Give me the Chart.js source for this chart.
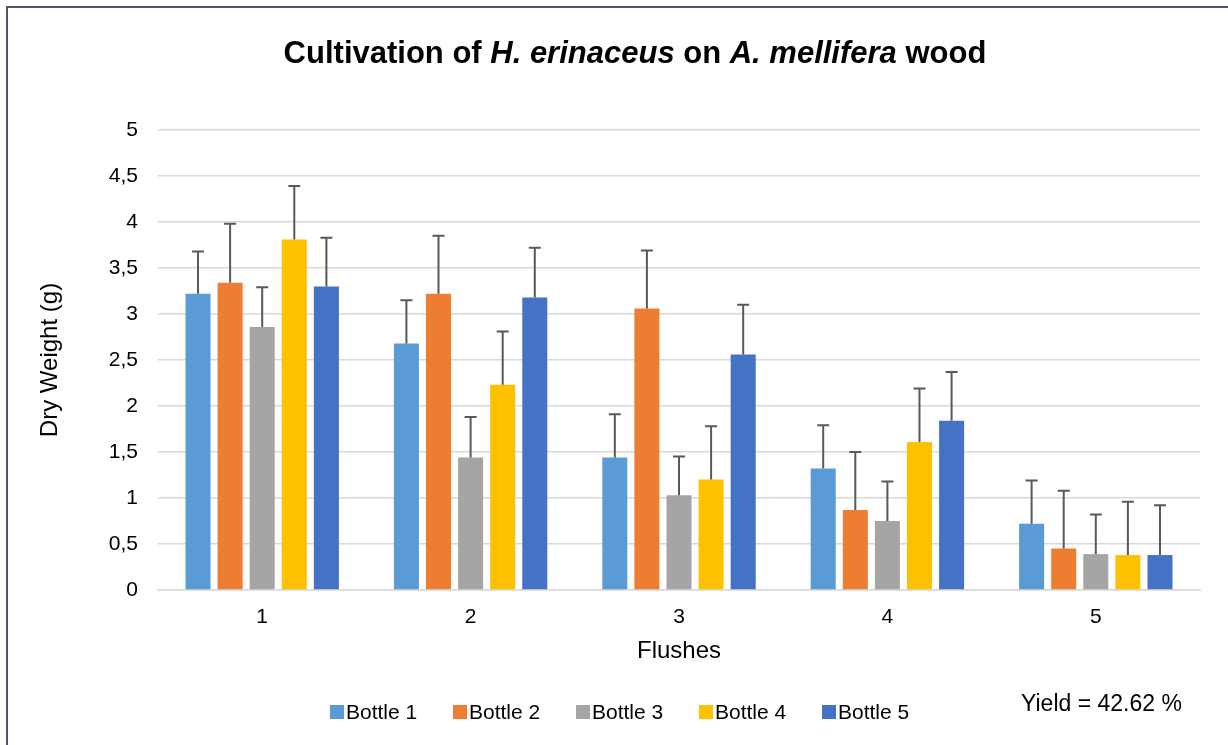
<!DOCTYPE html>
<html lang="en">
<head>
    <meta charset="UTF-8">
    <title>Cultivation of H. erinaceus on A. mellifera wood</title>
    <script src="https://cdn.jsdelivr.net/npm/chart.js@4.4.0/dist/chart.umd.min.js"></script>
    <style>
        html, body { margin: 0; padding: 0; background: #fff; }
        #wrap { width: 1228px; height: 745px; }
    </style>
</head>
<body>
    <div id="wrap"><canvas id="myChart" width="1228" height="745"></canvas></div>
    <script>
        // flushes on x axis
        const flushes = ['1', '2', '3', '4', '5'];
        const bottles = ['Bottle 1', 'Bottle 2', 'Bottle 3', 'Bottle 4', 'Bottle 5'];
        const colors = ['#5B9BD5', '#ED7D31', '#A5A5A5', '#FFC000', '#4472C4'];

        // dry weight (g) per flush, one array per bottle
        const bottle1 = [3.22, 2.68, 1.44, 1.32, 0.72];
        const bottle2 = [3.34, 3.22, 3.06, 0.87, 0.45];
        const bottle3 = [2.86, 1.44, 1.03, 0.75, 0.39];
        const bottle4 = [3.81, 2.23, 1.20, 1.61, 0.38];
        const bottle5 = [3.30, 3.18, 2.56, 1.84, 0.38];

        // error bar size (only the upper part is shown)
        const err1 = [0.46, 0.47, 0.47, 0.47, 0.47];
        const err2 = [0.64, 0.63, 0.63, 0.63, 0.63];
        const err3 = [0.43, 0.44, 0.42, 0.43, 0.43];
        const err4 = [0.58, 0.58, 0.58, 0.58, 0.58];
        const err5 = [0.53, 0.54, 0.54, 0.53, 0.54];

        const yTicks = [0, 0.5, 1, 1.5, 2, 2.5, 3, 3.5, 4, 4.5, 5];
        const yieldText = 'Yield = 42.62 %';

        const values = [bottle1, bottle2, bottle3, bottle4, bottle5];
        const errors = [err1, err2, err3, err4, err5];

        const font = "'Liberation Sans', Arial, sans-serif";

        // error bars on top of every bar
        const errorBars = {
            id: 'errorBars',
            afterDatasetsDraw(chart) {
                const ctx = chart.ctx;
                const y = chart.scales.y;
                ctx.save();
                ctx.strokeStyle = '#595959';
                ctx.lineWidth = 2;
                chart.data.datasets.forEach((ds, i) => {
                    const meta = chart.getDatasetMeta(i);
                    meta.data.forEach((bar, j) => {
                        const top = y.getPixelForValue(ds.data[j] + errors[i][j]);
                        ctx.beginPath();
                        ctx.moveTo(bar.x, bar.y);
                        ctx.lineTo(bar.x, top);
                        ctx.moveTo(bar.x - 6, top);
                        ctx.lineTo(bar.x + 6, top);
                        ctx.stroke();
                    });
                });
                ctx.restore();
            }
        };

        // title with italic species names, frame, legend, yield note
        const extras = {
            id: 'extras',
            afterDraw(chart) {
                const ctx = chart.ctx;
                ctx.save();
                // frame
                ctx.strokeStyle = '#4A5568';
                ctx.lineWidth = 2;
                ctx.beginPath();
                ctx.moveTo(7, 745);
                ctx.lineTo(7, 7);
                ctx.lineTo(1228, 7);
                ctx.stroke();

                // title
                const parts = [
                    ['Cultivation of ', 'bold'],
                    ['H. erinaceus', 'italic bold'],
                    [' on ', 'bold'],
                    ['A. mellifera', 'italic bold'],
                    [' wood', 'bold']
                ];
                let total = 0;
                parts.forEach(p => {
                    ctx.font = p[1] + ' 31px ' + font;
                    total += ctx.measureText(p[0]).width;
                });
                let x = 635 - total / 2;
                ctx.fillStyle = '#000';
                ctx.textBaseline = 'middle';
                ctx.textAlign = 'left';
                parts.forEach(p => {
                    ctx.font = p[1] + ' 31px ' + font;
                    ctx.fillText(p[0], x, 54);
                    x += ctx.measureText(p[0]).width;
                });

                // legend
                ctx.font = '21px ' + font;
                let lx = 330;
                chart.data.datasets.forEach(ds => {
                    ctx.fillStyle = ds.backgroundColor;
                    ctx.fillRect(lx, 705, 14, 14);
                    ctx.fillStyle = '#000';
                    ctx.fillText(ds.label, lx + 16, 713);
                    lx += 123;
                });

                // yield
                ctx.font = '23px ' + font;
                ctx.fillText(yieldText, 1021, 705);
                ctx.restore();
            }
        };

        const ctx = document.getElementById('myChart').getContext('2d');
        const myChart = new Chart(ctx, {
            type: 'bar',
            data: {
                labels: flushes,
                datasets: bottles.map((b, i) => ({
                    label: b,
                    data: values[i],
                    backgroundColor: colors[i],
                    borderWidth: 0,
                    categoryPercentage: 0.77,
                    barPercentage: 0.78
                }))
            },
            options: {
                responsive: false,
                animation: false,
                layout: { padding: { left: 32, right: 28, top: 130, bottom: 75 } },
                scales: {
                    x: {
                        grid: { display: false, drawTicks: false },
                        border: { color: '#D9D9D9', width: 1.5 },
                        ticks: { color: '#000', font: { family: font, size: 21 }, padding: 15 },
                        title: { display: true, text: 'Flushes', color: '#000', font: { family: font, size: 24 }, padding: { top: -8, bottom: 4 } }
                    },
                    y: {
                        min: 0,
                        max: 5,
                        afterBuildTicks(scale) { scale.ticks = yTicks.map(v => ({ value: v })); },
                        afterFit(scale) { scale.width = 126; },
                        grid: { color: '#D9D9D9', lineWidth: 1.5, drawTicks: false },
                        border: { display: false },
                        ticks: {
                            color: '#000',
                            padding: 20,
                            font: { family: font, size: 21 },
                            callback: v => String(v).replace('.', ',')
                        },
                        title: { display: true, text: 'Dry Weight (g)', color: '#000', font: { family: font, size: 24 } }
                    }
                },
                plugins: {
                    title: { display: false },
                    tooltip: { enabled: false },
                    legend: { display: false }
                }
            },
            plugins: [errorBars, extras]
        });
    </script>
</body>
</html>
